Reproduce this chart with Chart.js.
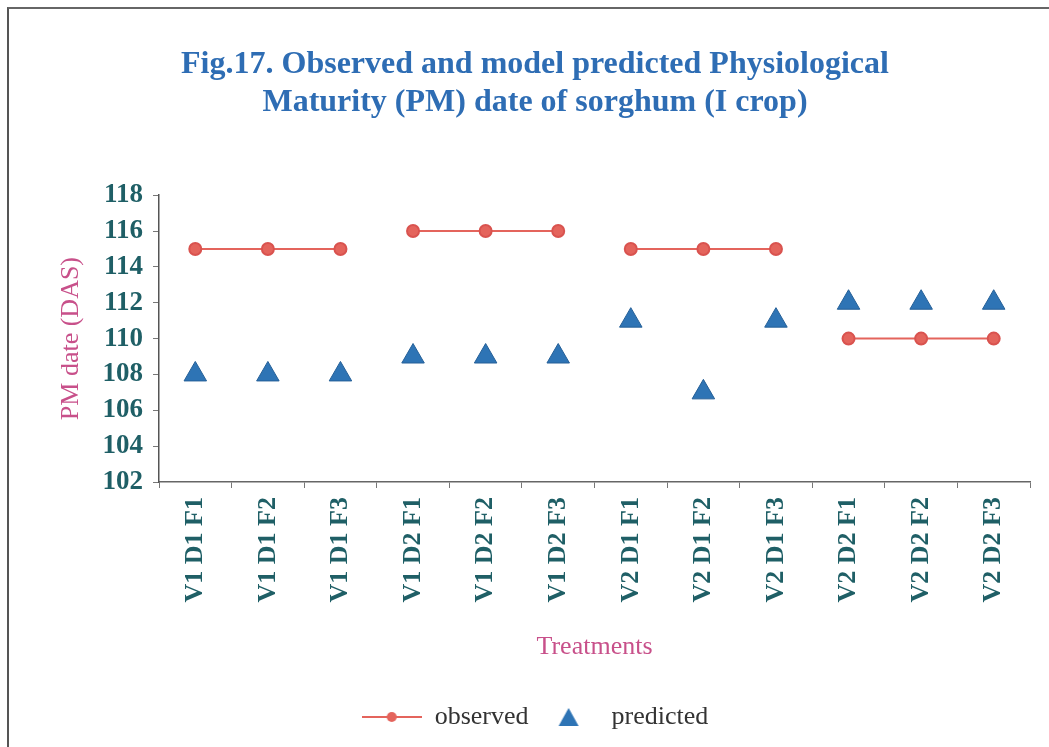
<!DOCTYPE html>
<html>
<head>
<meta charset="utf-8">
<script src="https://cdn.jsdelivr.net/npm/chart.js@4/dist/chart.umd.min.js"></script>
<style>
  html, body { margin: 0; padding: 0; background: #fff; }
  #wrap { position: relative; width: 1049px; height: 747px; }
  #frame { position: absolute; left: 7px; top: 7px; right: 0; bottom: 0;
           border-left: 2px solid #555; border-top: 2px solid #666; }
  canvas { position: absolute; left: 0; top: 0; }
</style>
</head>
<body>
<div id="wrap">
  <div id="frame"></div>
  <canvas id="chart" width="1049" height="747"></canvas>
</div>
<script>
// data
const treatments = ['V1 D1 F1', 'V1 D1 F2', 'V1 D1 F3', 'V1 D2 F1', 'V1 D2 F2', 'V1 D2 F3',
                    'V2 D1 F1', 'V2 D1 F2', 'V2 D1 F3', 'V2 D2 F1', 'V2 D2 F2', 'V2 D2 F3'];
const observed = [115, 115, 115, 116, 116, 116, 115, 115, 115, 110, 110, 110];
const predicted = [108, 108, 108, 109, 109, 109, 111, 107, 111, 112, 112, 112];
const yTicks = [102, 104, 106, 108, 110, 112, 114, 116, 118];

const obsColor = '#e4645c';
const predColor = '#2e74b5';
const tealText = '#1f5f66';
const pinkText = '#c8508a';
const serif = "'Liberation Serif', 'DejaVu Serif', serif";

// legend symbols (line + dot, triangle)
function legendIcon(kind) {
  const c = document.createElement('canvas');
  c.width = 60; c.height = 22;
  const g = c.getContext('2d');
  if (kind === 'line') {
    g.strokeStyle = obsColor; g.lineWidth = 2;
    g.beginPath(); g.moveTo(0, 11); g.lineTo(60, 11); g.stroke();
    g.fillStyle = obsColor;
    g.beginPath(); g.arc(30, 11, 5, 0, Math.PI * 2); g.fill();
  } else {
    g.fillStyle = predColor;
    g.beginPath(); g.moveTo(30, 2); g.lineTo(40, 20); g.lineTo(20, 20); g.closePath(); g.fill();
  }
  return c;
}

new Chart(document.getElementById('chart'), {
  type: 'line',
  data: {
    labels: treatments,
    datasets: [{
      label: 'observed',
      data: observed,
      borderColor: obsColor,
      backgroundColor: obsColor,
      borderWidth: 2,
      pointRadius: 6,
      pointBorderColor: '#d9534f',
      pointBackgroundColor: obsColor,
      segment: {
        // line only joins points inside each group of three
        borderColor: ctx => (ctx.p0DataIndex % 3 === 2 ? 'rgba(0,0,0,0)' : obsColor)
      }
    }, {
      label: 'predicted',
      data: predicted,
      showLine: false,
      pointStyle: 'triangle',
      pointRadius: 13,
      pointBackgroundColor: predColor,
      pointBorderColor: '#245f97',
      pointBorderWidth: 1
    }]
  },
  options: {
    responsive: false,
    animation: false,
    layout: { padding: { left: 40, right: 19, top: 0, bottom: 7 } },
    plugins: {
      title: {
        display: true,
        text: ['Fig.17. Observed and model predicted Physiological', 'Maturity (PM) date of sorghum (I crop)'],
        color: '#2e6db4',
        font: { family: serif, size: 32, weight: 'bold', lineHeight: 1.19 },
        padding: { top: 46, bottom: 73 }
      },
      legend: {
        position: 'bottom',
        labels: {
          usePointStyle: true,
          pointStyleWidth: 60,
          color: '#333',
          font: { family: serif, size: 26 },
          padding: 10,
          generateLabels: () => [
            { text: 'observed', pointStyle: legendIcon('line'), fontColor: '#333', datasetIndex: 0 },
            { text: 'predicted', pointStyle: legendIcon('tri'), fontColor: '#333', datasetIndex: 1 }
          ]
        }
      },
      tooltip: { enabled: false }
    },
    scales: {
      x: {
        offset: true,
        afterFit: axis => { axis.height = 212; },
        grid: { offset: true, drawOnChartArea: false, drawTicks: true, tickLength: 6, color: '#777' },
        border: { display: true, color: '#666', width: 1.5 },
        ticks: {
          color: tealText,
          font: { family: serif, size: 26, weight: 'bold' },
          minRotation: 90, maxRotation: 90, padding: 9
        },
        title: {
          display: true, text: 'Treatments', color: pinkText,
          font: { family: serif, size: 26 }, padding: { top: 10, bottom: 31 }
        }
      },
      y: {
        min: 102, max: 118,
        afterBuildTicks: axis => { axis.ticks = yTicks.map(v => ({ value: v })); },
        afterFit: axis => { axis.width = 119; },
        grid: { drawOnChartArea: false, drawTicks: true, tickLength: 6, color: '#777' },
        border: { display: true, color: '#555', width: 1.5 },
        ticks: {
          color: tealText,
          font: { family: serif, size: 27, weight: 'bold' },
          padding: 10
        },
        title: {
          display: true, text: 'PM date (DAS)', color: pinkText,
          font: { family: serif, size: 26 }, padding: { top: 16, bottom: 6 }
        }
      }
    }
  }
});
</script>
</body>
</html>
